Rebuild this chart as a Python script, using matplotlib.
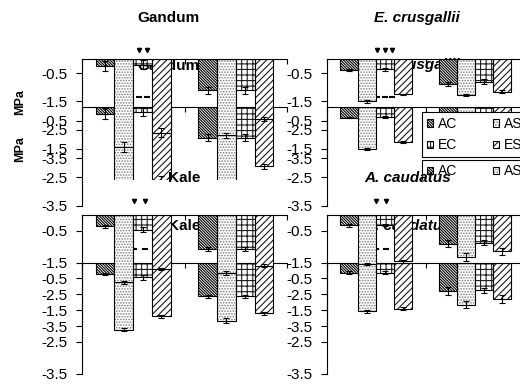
import matplotlib
matplotlib.use('Agg')
import matplotlib.pyplot as plt
import numpy as np
from matplotlib.patches import Rectangle
from matplotlib.legend_handler import HandlerTuple

plt.rcParams['font.family'] = ['Liberation Sans', 'DejaVu Sans']
plt.rcParams['axes.unicode_minus'] = False
plt.rcParams['hatch.linewidth'] = 0.8

# ---------------- data ----------------
treatments = ['AC', 'AS', 'EC', 'ES']
groups = [0, 1]
ytick_vals = [-0.5, -1.5, -2.5, -3.5]
ytick_labels = ['-0.5', '-1.5', '-2.5', '-3.5']

gandum_g1 = [-0.25, -3.10, -0.20, -2.60]
gandum_g2 = [-1.10, -2.70, -1.10, -2.12]
gandum_e1 = [0.18, 0.18, 0.15, 0.15]
gandum_e2 = [0.12, 0.10, 0.12, 0.08]

ecrus_g1 = [-0.39, -1.50, -0.37, -1.25]
ecrus_g2 = [-0.88, -1.27, -0.80, -1.15]
ecrus_e1 = [0.03, 0.04, 0.05, 0.03]
ecrus_e2 = [0.08, 0.05, 0.08, 0.04]

kale_g1 = [-0.36, -2.12, -0.47, -1.70]
kale_g2 = [-1.07, -1.83, -1.07, -1.60]
kale_e1 = [0.04, 0.05, 0.08, 0.04]
kale_e2 = [0.05, 0.07, 0.06, 0.05]

acaud_g1 = [-0.32, -1.54, -0.32, -1.46]
acaud_g2 = [-0.90, -1.33, -0.87, -1.15]
acaud_e1 = [0.05, 0.04, 0.04, 0.05]
acaud_e2 = [0.12, 0.12, 0.08, 0.12]

# significance marks (x in category units, y in MPa)
sig_gandum_x = [0.06, 0.13]
sig_ecrus_x = [0.01, 0.09, 0.16]
sig_kale_x = [0.01, 0.11]
sig_acaud_x = [0.00, 0.10]
sig_top_y = 0.33
sig_bot_y = 0.44

# ---------------- styles ----------------
hatches = ['\\' * 12, '......', '+++', '/////']
hatch_cols = ['#000000', '#808080', '#202020', '#1a1a1a']

W, H = 520, 385
fig = plt.figure(figsize=(W / 100, H / 100), dpi=100)
fig.patch.set_facecolor('white')


def box(x0, x1, ytop, ybot):
    return [x0 / W, 1 - ybot / H, (x1 - x0) / W, (ybot - ytop) / H]


bw = 0.183


def draw_panel(ax, g1, g2, e1, e2, sig_x, sig_y, layer):
    ax.patch.set_visible(False)
    ax.set_xlim(-0.5, 1.5)
    ax.set_ylim(-3.5, 0)
    handles = []
    for i, t in enumerate(treatments):
        xs = np.array(groups) + (i - 1.5) * bw
        vals = [g1[i], g2[i]]
        errs = [e1[i], e2[i]]
        hb = ax.bar(xs, vals, bw, color='white', edgecolor=hatch_cols[i],
                    hatch=hatches[i], linewidth=0, zorder=2)
        ob = ax.bar(xs, vals, bw, fill=False, edgecolor='black',
                    linewidth=0.8, zorder=2.1)
        ax.errorbar(xs, vals, yerr=errs, fmt='none', ecolor='black',
                    elinewidth=0.8, capsize=2.5, capthick=0.8, zorder=3)
        handles.append((hb.patches[0], ob.patches[0]))
    if layer == 1:
        ax.plot(sig_x, [sig_y] * len(sig_x), ls='none', marker='v', ms=3,
                color='black', clip_on=False, zorder=3)
    else:
        ax.plot(sig_x, [sig_y] * len(sig_x), ls='none', marker='_', ms=4,
                mew=1.5, color='black', clip_on=False, zorder=3)
    for s in ['right', 'bottom']:
        ax.spines[s].set_visible(False)
    for s in ['left', 'top']:
        ax.spines[s].set_linewidth(0.8)
    ax.set_yticks(ytick_vals)
    ax.set_yticklabels(ytick_labels, fontsize=11)
    ax.tick_params(axis='y', direction='out', length=4, width=0.8, pad=6.5)
    ax.xaxis.tick_top()
    ax.set_xticks([-0.5, 0.5, 1.5])
    ax.set_xticklabels([])
    ax.tick_params(axis='x', direction='in', length=3.5, width=0.8)
    return handles


panels = [
    ('Gandum', 'normal', (gandum_g1, gandum_g2, gandum_e1, gandum_e2), sig_gandum_x, 82, 287, 0, 168),
    ('E. crusgallii', 'italic', (ecrus_g1, ecrus_g2, ecrus_e1, ecrus_e2), sig_ecrus_x, 327, 524, 0, 417),
    ('Kale', 'normal', (kale_g1, kale_g2, kale_e1, kale_e2), sig_kale_x, 82, 287, 1, 184),
    ('A. caudatus', 'italic', (acaud_g1, acaud_g2, acaud_e1, acaud_e2), sig_acaud_x, 327, 524, 1, 408),
]

rows = {0: dict(l1=(59, 158), title=18, sigy=sig_top_y, z=(0, 0.5)),
        1: dict(l1=(215, 326), title=178, sigy=sig_bot_y, z=(2, 3))}
shift = 47.5

for layer in (2, 1):
    for name, style, data, sx, x0, x1, row, tx in panels:
        r = rows[row]
        yt, yb = r['l1']
        off = shift if layer == 2 else 0
        ax = fig.add_axes(box(x0, x1, yt + off, yb + off))
        ax.set_zorder(r['z'][0] if layer == 2 else r['z'][1])
        h = draw_panel(ax, *data, sx, r['sigy'], layer)
        ax.text(tx / W, 1 - (r['title'] + off) / H, name, transform=fig.transFigure,
                ha='center', va='center', fontsize=11, fontweight='bold',
                fontstyle=style)
        if name == 'Gandum':
            ax.text(20 / W, 1 - (102 + off) / H, 'MPa', transform=fig.transFigure,
                    rotation=90, ha='center', va='center', fontsize=9,
                    fontweight='bold')
        if name == 'E. crusgallii':
            order = [0, 2, 1, 3]  # row-wise AC AS / EC ES
            leg = ax.legend([h[k] for k in order], [treatments[k] for k in order],
                            ncol=2, loc='upper left',
                            bbox_to_anchor=(422 / W, 1 - (112 + off) / H),
                            bbox_transform=fig.transFigure,
                            handler_map={tuple: HandlerTuple(ndivide=1, pad=0)},
                            fontsize=10, frameon=True, fancybox=False,
                            edgecolor='black', framealpha=1, handlelength=0.45,
                            handleheight=0.45, handletextpad=0.35,
                            columnspacing=2.55, labelspacing=0.55,
                            borderpad=0.35, borderaxespad=0)
            leg.get_frame().set_linewidth(0.8)
            leg.set_zorder(5)

# white strip hiding the part of the upper charts below the lower ones
for (x0, x1) in [(83.5, 287.5), (328.5, 520)]:
    fig.add_artist(Rectangle((x0 / W, 1 - 213 / H), (x1 - x0) / W, 33 / H,
                             transform=fig.transFigure, facecolor='white',
                             edgecolor='none', zorder=1))

fig.savefig('out.png', dpi=100, facecolor='white')
